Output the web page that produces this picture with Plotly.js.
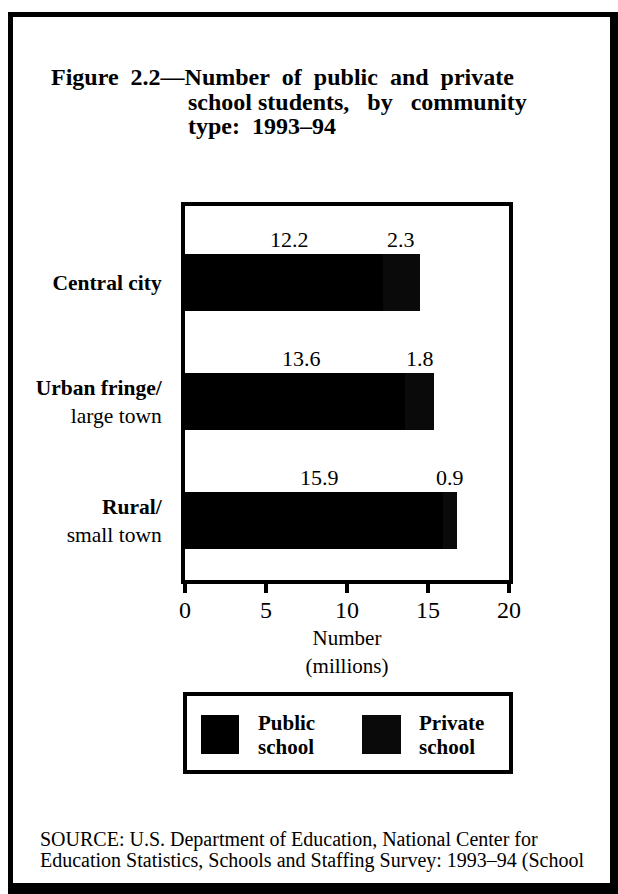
<!DOCTYPE html>
<html>
<head>
<meta charset="utf-8">
<script src="https://cdn.plot.ly/plotly-3.0.1.min.js"></script>
<style>
  html, body { margin: 0; padding: 0; background: #ffffff; }
  #chart { width: 618px; height: 894px; }
</style>
</head>
<body>
<div id="chart"></div>
<script>
// ---- data ----
const categories = ['Central city', 'Urban fringe/ large town', 'Rural/ small town'];
const categoryLabels = ['<b>Central city</b>', '<b>Urban fringe/</b><br>large town', '<b>Rural/</b><br>small town'];
const publicValues = [12.2, 13.6, 15.9];
const privateValues = [2.3, 1.8, 0.9];
const seriesNames = ['Public school', 'Private school'];
const legendLabels = ['<b>Public</b>', '<b>school</b>', '<b>Private</b>', '<b>school</b>'];
const xTickValues = [0, 5, 10, 15, 20];
const titleLines = [
  'Figure\u00A0 2.2—Number\u00A0 of\u00A0 public\u00A0 and\u00A0 private',
  'school students,\u00A0\u00A0 by\u00A0\u00A0 community',
  'type:\u00A0 1993–94'
];
const axisTitle = 'Number<br>(millions)';
const sourceLines = [
  'SOURCE: U.S. Department of Education, National Center for',
  'Education Statistics, Schools and Staffing Survey: 1993–94 (School'
];

// ---- styling ----
const W = 618, H = 894;
const PL = 185, PR = 509, PT = 206, PB = 580;
const SERIF = 'Liberation Serif, Times New Roman, serif';
const colorPublic = '#000000';
const colorPrivate = '#0a0a0a';

const px = x => (x - PL) / (PR - PL);
const py = y => (PB - y) / (PB - PT);

const traces = [
  {
    type: 'bar', orientation: 'h', name: seriesNames[0],
    y: categories, x: publicValues,
    marker: { color: colorPublic, line: { width: 0 } },
    width: 0.48, showlegend: false, hoverinfo: 'skip'
  },
  {
    type: 'bar', orientation: 'h', name: seriesNames[1],
    y: categories, x: privateValues,
    marker: { color: colorPrivate, line: { width: 0 } },
    width: 0.48, showlegend: false, hoverinfo: 'skip'
  }
];

const annotations = [];
// value labels above each segment
categories.forEach((c, i) => {
  annotations.push({
    x: publicValues[i] / 2, y: c, xref: 'x', yref: 'y',
    text: publicValues[i].toFixed(1), showarrow: false,
    xanchor: 'center', yanchor: 'middle', yshift: 43, xshift: 6,
    font: { family: SERIF, size: 22, color: '#000' }
  });
  annotations.push({
    x: publicValues[i] + privateValues[i] / 2, y: c, xref: 'x', yref: 'y',
    text: privateValues[i].toFixed(1), showarrow: false,
    xanchor: 'center', yanchor: 'middle', yshift: 43,
    font: { family: SERIF, size: 22, color: '#000' }
  });
});
// title lines 2-3 (hanging indent)
annotations.push({
  x: px(186), y: py(102), xref: 'paper', yref: 'paper', xanchor: 'left', yanchor: 'middle',
  text: titleLines[1], showarrow: false,
  font: { family: SERIF, size: 24, color: '#000', weight: 'bold' }
});
annotations.push({
  x: px(186), y: py(126), xref: 'paper', yref: 'paper', xanchor: 'left', yanchor: 'middle',
  text: titleLines[2], showarrow: false,
  font: { family: SERIF, size: 24, color: '#000', weight: 'bold' }
});
// legend texts
[[256, 723, 0], [256, 747, 1], [417, 723, 2], [417, 747, 3]].forEach(([x, y, k]) => {
  annotations.push({
    x: px(x), y: py(y), xref: 'paper', yref: 'paper', xanchor: 'left', yanchor: 'middle',
    text: legendLabels[k], showarrow: false,
    font: { family: SERIF, size: 21, color: '#000' }
  });
});
// source lines
annotations.push({
  x: px(38), y: py(839), xref: 'paper', yref: 'paper', xanchor: 'left', yanchor: 'middle',
  text: sourceLines[0], showarrow: false,
  font: { family: SERIF, size: 20, color: '#000' }
});
annotations.push({
  x: px(38), y: py(860), xref: 'paper', yref: 'paper', xanchor: 'left', yanchor: 'middle',
  text: sourceLines[1], showarrow: false,
  font: { family: SERIF, size: 20, color: '#000' }
});

const shapes = [
  // outer frame
  { type: 'rect', xref: 'paper', yref: 'paper', x0: px(8), x1: px(13), y0: py(12), y1: py(894), fillcolor: '#000', line: { width: 0 } },
  { type: 'rect', xref: 'paper', yref: 'paper', x0: px(8), x1: px(618), y0: py(12), y1: py(17), fillcolor: '#000', line: { width: 0 } },
  { type: 'rect', xref: 'paper', yref: 'paper', x0: px(610), x1: px(618), y0: py(12), y1: py(894), fillcolor: '#000', line: { width: 0 } },
  { type: 'rect', xref: 'paper', yref: 'paper', x0: px(8), x1: px(618), y0: py(883), y1: py(894), fillcolor: '#000', line: { width: 0 } },
  // legend box
  { type: 'rect', xref: 'paper', yref: 'paper', x0: px(185), x1: px(511), y0: py(694), y1: py(772), fillcolor: 'rgba(0,0,0,0)', line: { color: '#000', width: 4 } },
  // legend swatches
  { type: 'rect', xref: 'paper', yref: 'paper', x0: px(201), x1: px(239), y0: py(715), y1: py(754), fillcolor: colorPublic, line: { width: 0 } },
  { type: 'rect', xref: 'paper', yref: 'paper', x0: px(362), x1: px(401), y0: py(715), y1: py(754), fillcolor: colorPrivate, line: { width: 0 } }
];

const layout = {
  width: W, height: H,
  margin: { l: PL, r: W - PR, t: PT, b: H - PB, pad: 0 },
  paper_bgcolor: '#ffffff', plot_bgcolor: '#ffffff',
  font: { family: SERIF, color: '#000' },
  barmode: 'stack',
  showlegend: false,
  hovermode: false,
  title: {
    text: titleLines[0],
    xref: 'container', yref: 'container',
    x: 51 / W, xanchor: 'left',
    y: 1 - 77 / H, yanchor: 'middle',
    font: { family: SERIF, size: 24, color: '#000', weight: 'bold' }
  },
  xaxis: {
    range: [0, 20], tickvals: xTickValues, ticktext: xTickValues.map(String),
    showgrid: false, zeroline: false,
    showline: true, linecolor: '#000', linewidth: 4, mirror: true,
    ticks: 'outside', ticklen: 9, tickwidth: 4, tickcolor: '#000',
    ticklabelstandoff: -4,
    tickfont: { family: SERIF, size: 24, color: '#000' },
    title: { text: axisTitle, standoff: 10, font: { family: SERIF, size: 21, color: '#000' } },
    fixedrange: true
  },
  yaxis: {
    type: 'category', categoryorder: 'array', categoryarray: categories,
    range: [2.505, -0.644],
    tickvals: categories, ticktext: categoryLabels,
    showgrid: false, zeroline: false,
    showline: true, linecolor: '#000', linewidth: 4, mirror: true,
    ticks: '', ticklabelstandoff: 15,
    tickfont: { family: SERIF, size: 21.5, color: '#000' },
    fixedrange: true
  },
  annotations: annotations,
  shapes: shapes
};

Plotly.newPlot('chart', traces, layout, { staticPlot: true, displayModeBar: false });
</script>
</body>
</html>
